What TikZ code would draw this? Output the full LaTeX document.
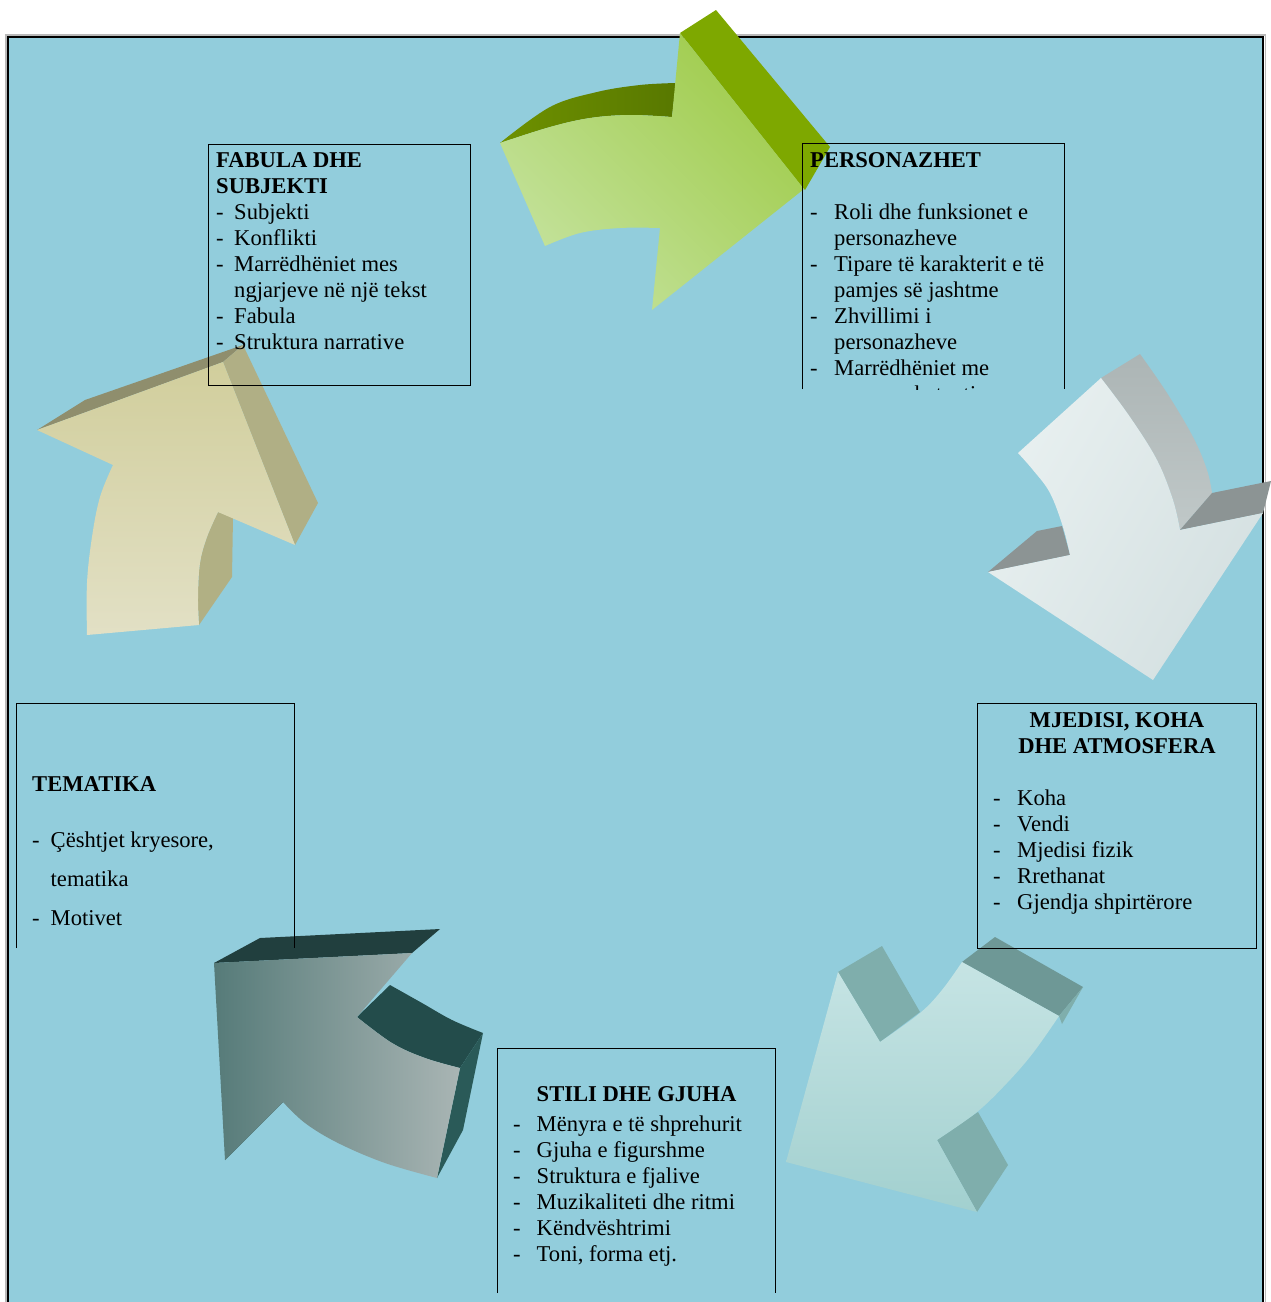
\documentclass[tikz,border=0pt]{standalone}
\usepackage{fontspec}
\setmainfont{Liberation Serif}
\definecolor{bgblue}{HTML}{92CDDC}
\begin{document}
\begin{tikzpicture}[x=1pt,y=-1pt,
  txt/.style={anchor=base west, inner sep=0pt, font=\fontsize{22.6}{26}\selectfont},
  ttl/.style={txt, font=\fontsize{22.6}{26}\selectfont\bfseries},
  ctl/.style={anchor=base, inner sep=0pt, font=\fontsize{22.6}{26}\selectfont\bfseries},
  boxline/.style={draw=black, line width=1pt},
  sm/.style={smooth, tension=0.6}]
\useasboundingbox (0,0) rectangle (1271,1302);
% background
\fill[bgblue] (8,37) rectangle (1263,1302);
\draw[gray!55, line width=1.2pt] (6,1302) -- (6,35) -- (1265.5,35) -- (1265.5,1302);
\draw[black, line width=1.6pt] (8,1302) -- (8,37) -- (1263,37) -- (1263,1302);

% ===== Arrow 1 (green) =====
\shade[left color={rgb,255:red,110;green,145;blue,0}, right color={rgb,255:red,88;green,120;blue,0}, shading angle=90] (500,143) -- plot[sm] coordinates {(500,143) (550,107) (597,92) (640,85) (676,83)} -- (672,117) -- plot[sm] coordinates {(672,117) (630,115) (590,118) (550,127) (500,143)} -- cycle;
\fill[color={rgb,255:red,126;green,168;blue,0}] (680,33) -- (716,10) -- (830,147) -- (805,190) -- (803,188) -- cycle;
\shade[left color={rgb,255:red,196;green,226;blue,156}, right color={rgb,255:red,160;green,204;blue,76}, shading angle=135]
  (500,143) -- (545,246) -- plot[sm] coordinates {(545,246) (580,233) (620,228) (660,228)} -- (652,310) -- (804,189) -- (680,33) -- (672,117) -- plot[sm] coordinates {(672,117) (630,115) (590,118) (550,127) (500,143)} -- cycle;

% ===== Arrow 2 (light grey) =====
\shade[top color={rgb,255:red,172;green,181;blue,181}, bottom color={rgb,255:red,192;green,200;blue,200}]
  (1101,378) -- plot[sm] coordinates {(1101,378) (1130,417) (1157,460) (1173,500) (1180,530)} -- (1212,493) -- plot[sm] coordinates {(1212,493) (1207,470) (1193,437) (1167,393) (1140,354)} -- cycle;
\fill[color={rgb,255:red,140;green,148;blue,148}] (1180,530) -- (1212,493) -- (1271,481) -- (1263,513) -- cycle;
\fill[color={rgb,255:red,140;green,148;blue,148}] (988,572) -- (1037,531) -- (1062,526) -- (1070,555) -- cycle;
\shade[left color={rgb,255:red,232;green,240;blue,240}, right color={rgb,255:red,212;green,224;blue,225}, shading angle=60]
  (1018,453) -- (1101,378) -- plot[sm] coordinates {(1101,378) (1130,417) (1157,460) (1173,500) (1180,530)} -- (1263,513) -- (1153,680) -- (988,572) -- (1070,555) -- plot[sm] coordinates {(1070,555) (1063,527) (1050,493) (1033,470) (1018,453)} -- cycle;

% ===== Arrow 3 (light teal) =====
\fill[color={rgb,255:red,127;green,174;blue,172}] (838,972) -- (882,946) -- (920,1012) -- (880,1042) -- cycle;
\fill[color={rgb,255:red,110;green,152;blue,150}] (962,962) -- (995,937) -- (1083,987) -- (1059,1016) -- cycle;
\fill[color={rgb,255:red,127;green,174;blue,172}] (1059,1016) -- (1083,987) -- (1062,1024) -- cycle;
\fill[color={rgb,255:red,127;green,174;blue,172}] (937,1140) -- (978,1112) -- (1008,1165) -- (977,1212) -- cycle;
\shade[top color={rgb,255:red,198;green,228;blue,228}, bottom color={rgb,255:red,162;green,208;blue,207}]
  (838,972) -- (880,1042) -- plot[sm] coordinates {(880,1042) (920,1013) (942,990) (962,962)} -- (1059,1016) -- plot[sm] coordinates {(1059,1016) (1033,1053) (1007,1083) (977,1112) (937,1140)} -- (977,1212) -- (786,1162) -- cycle;

% ===== Arrow 4 (dark teal) =====
\fill[color={rgb,255:red,33;green,63;blue,62}] (214,963) -- (260,938) -- (440,929) -- (412,953) -- cycle;
\fill[color={rgb,255:red,35;green,76;blue,75}] (357,1017) -- plot[sm] coordinates {(390,985) (422,1003) (452,1020) (483,1033)} -- (460,1068) -- plot[sm] coordinates {(460,1068) (425,1058) (392,1043) (357,1017)} -- cycle;
\fill[color={rgb,255:red,42;green,90;blue,88}] (460,1068) -- (483,1033) -- (463,1130) -- (437,1178) -- cycle;
\fill[color={rgb,255:red,42;green,90;blue,88}] (225,1160) -- (279,1098) -- (283,1102) -- cycle;
\shade[left color={rgb,255:red,86;green,123;blue,121}, right color={rgb,255:red,169;green,181;blue,180}, shading angle=90]
  (214,963) -- (412,953) -- (357,1017) -- plot[sm] coordinates {(357,1017) (392,1043) (425,1058) (460,1068)} -- (437,1178) -- plot[sm] coordinates {(437,1178) (385,1163) (338,1143) (305,1123) (283,1102)} -- (225,1160) -- cycle;

% ===== Arrow 5 (khaki) =====
\fill[color={rgb,255:red,143;green,142;blue,109}] (37,430) -- (85,400) -- (243,345) -- (223,362) -- cycle;
\fill[color={rgb,255:red,176;green,175;blue,133}] (223,362) -- (243,345) -- (318,503) -- (295,545) -- cycle;
\fill[color={rgb,255:red,177;green,176;blue,132}] (218,512) -- (233,517) -- (232,577) -- (199,625) -- plot[sm] coordinates {(199,625) (198,597) (200,563) (207,537) (218,512)} -- cycle;
\shade[top color={rgb,255:red,209;green,206;blue,156}, bottom color={rgb,255:red,226;green,224;blue,197}]
  (223,362) -- (295,545) -- (218,512) -- plot[sm] coordinates {(218,512) (207,537) (200,563) (198,597) (199,625)} -- (87,635) -- plot[sm] coordinates {(87,635) (87,583) (92,537) (100,497) (113,465)} -- (37,430) -- cycle;

% ===== Box: FABULA DHE SUBJEKTI =====
\draw[boxline] (208.5,144) rectangle (470,385);
\node[ttl] (fabT1) at (216,167.5) {FABULA DHE};
\node[ttl] (fabT2) at (216,193.5) {SUBJEKTI};
\node[txt] (fabD1) at (216,219.5) {-}; \node[txt] (fab1) at (234,219.5) {Subjekti};
\node[txt] (fabD2) at (216,245.5) {-}; \node[txt] (fab2) at (234,245.5) {Konflikti};
\node[txt] (fabD3) at (216,271.5) {-}; \node[txt] (fab3) at (234,271.5) {Marrëdhëniet mes};
\node[txt] (fab3b) at (234,297.5) {ngjarjeve në një tekst};
\node[txt] (fabD4) at (216,323.5) {-}; \node[txt] (fab4) at (234,323.5) {Fabula};
\node[txt] (fabD5) at (216,349.5) {-}; \node[txt] (fab5) at (234,349.5) {Struktura narrative};

% ===== Box: PERSONAZHET =====
\draw[boxline] (802.5,389) -- (802.5,143.5) -- (1064.5,143.5) -- (1064.5,389);
\begin{scope}
\clip (800,140) rectangle (1066,389.5);
\node[ttl] (perT) at (810,167.5) {PERSONAZHET};
\node[txt] (perD1) at (810,219.5) {-}; \node[txt] (per1) at (834,219.5) {Roli dhe funksionet e};
\node[txt] (per1b) at (834,245.5) {personazheve};
\node[txt] (perD2) at (810,271.5) {-}; \node[txt] (per2) at (834,271.5) {Tipare të karakterit e të};
\node[txt] (per2b) at (834,297.5) {pamjes së jashtme};
\node[txt] (perD3) at (810,323.5) {-}; \node[txt] (per3) at (834,323.5) {Zhvillimi i};
\node[txt] (per3b) at (834,349.5) {personazheve};
\node[txt] (perD4) at (810,375.5) {-}; \node[txt] (per4) at (834,375.5) {Marrëdhëniet me};
\node[txt] (per4b) at (834,401.5) {personazhet e tjera};
\end{scope}

% ===== Box: MJEDISI =====
\draw[boxline] (977.5,703.5) rectangle (1256.5,948);
\node[ctl] (mjT1) at (1117,727.5) {MJEDISI, KOHA};
\node[ctl] (mjT2) at (1117,753.5) {DHE ATMOSFERA};
\node[txt] (mjD1) at (993,805) {-}; \node[txt] (mj1) at (1017,805) {Koha};
\node[txt] (mjD2) at (993,831) {-}; \node[txt] (mj2) at (1017,831) {Vendi};
\node[txt] (mjD3) at (993,857) {-}; \node[txt] (mj3) at (1017,857) {Mjedisi fizik};
\node[txt] (mjD4) at (993,883) {-}; \node[txt] (mj4) at (1017,883) {Rrethanat};
\node[txt] (mjD5) at (993,909) {-}; \node[txt] (mj5) at (1017,909) {Gjendja shpirtërore};

% ===== Box: STILI DHE GJUHA =====
\draw[boxline] (497.5,1293) -- (497.5,1048.5) -- (775.5,1048.5) -- (775.5,1293);
\node[ttl] (stT) at (536.5,1101.5) {STILI DHE GJUHA};
\node[txt] (stD1) at (513,1131.5) {-}; \node[txt] (st1) at (536.5,1131.5) {Mënyra e të shprehurit};
\node[txt] (stD2) at (513,1157.5) {-}; \node[txt] (st2) at (536.5,1157.5) {Gjuha e figurshme};
\node[txt] (stD3) at (513,1183.5) {-}; \node[txt] (st3) at (536.5,1183.5) {Struktura e fjalive};
\node[txt] (stD4) at (513,1209.5) {-}; \node[txt] (st4) at (536.5,1209.5) {Muzikaliteti dhe ritmi};
\node[txt] (stD5) at (513,1235.5) {-}; \node[txt] (st5) at (536.5,1235.5) {Këndvështrimi};
\node[txt] (stD6) at (513,1261.5) {-}; \node[txt] (st6) at (536.5,1261.5) {Toni, forma etj.};

% ===== Box: TEMATIKA =====
\draw[boxline] (16.5,948) -- (16.5,703.5) -- (294.5,703.5) -- (294.5,948);
\node[ttl] (teT) at (32,791.5) {TEMATIKA};
\node[txt] (teD1) at (32,847.5) {-}; \node[txt] (te1) at (50.5,847.5) {Çështjet kryesore,};
\node[txt] (te1b) at (50.5,886) {tematika};
\node[txt] (teD2) at (32,925) {-}; \node[txt] (te2) at (50.5,925) {Motivet};
\end{tikzpicture}
\end{document}
